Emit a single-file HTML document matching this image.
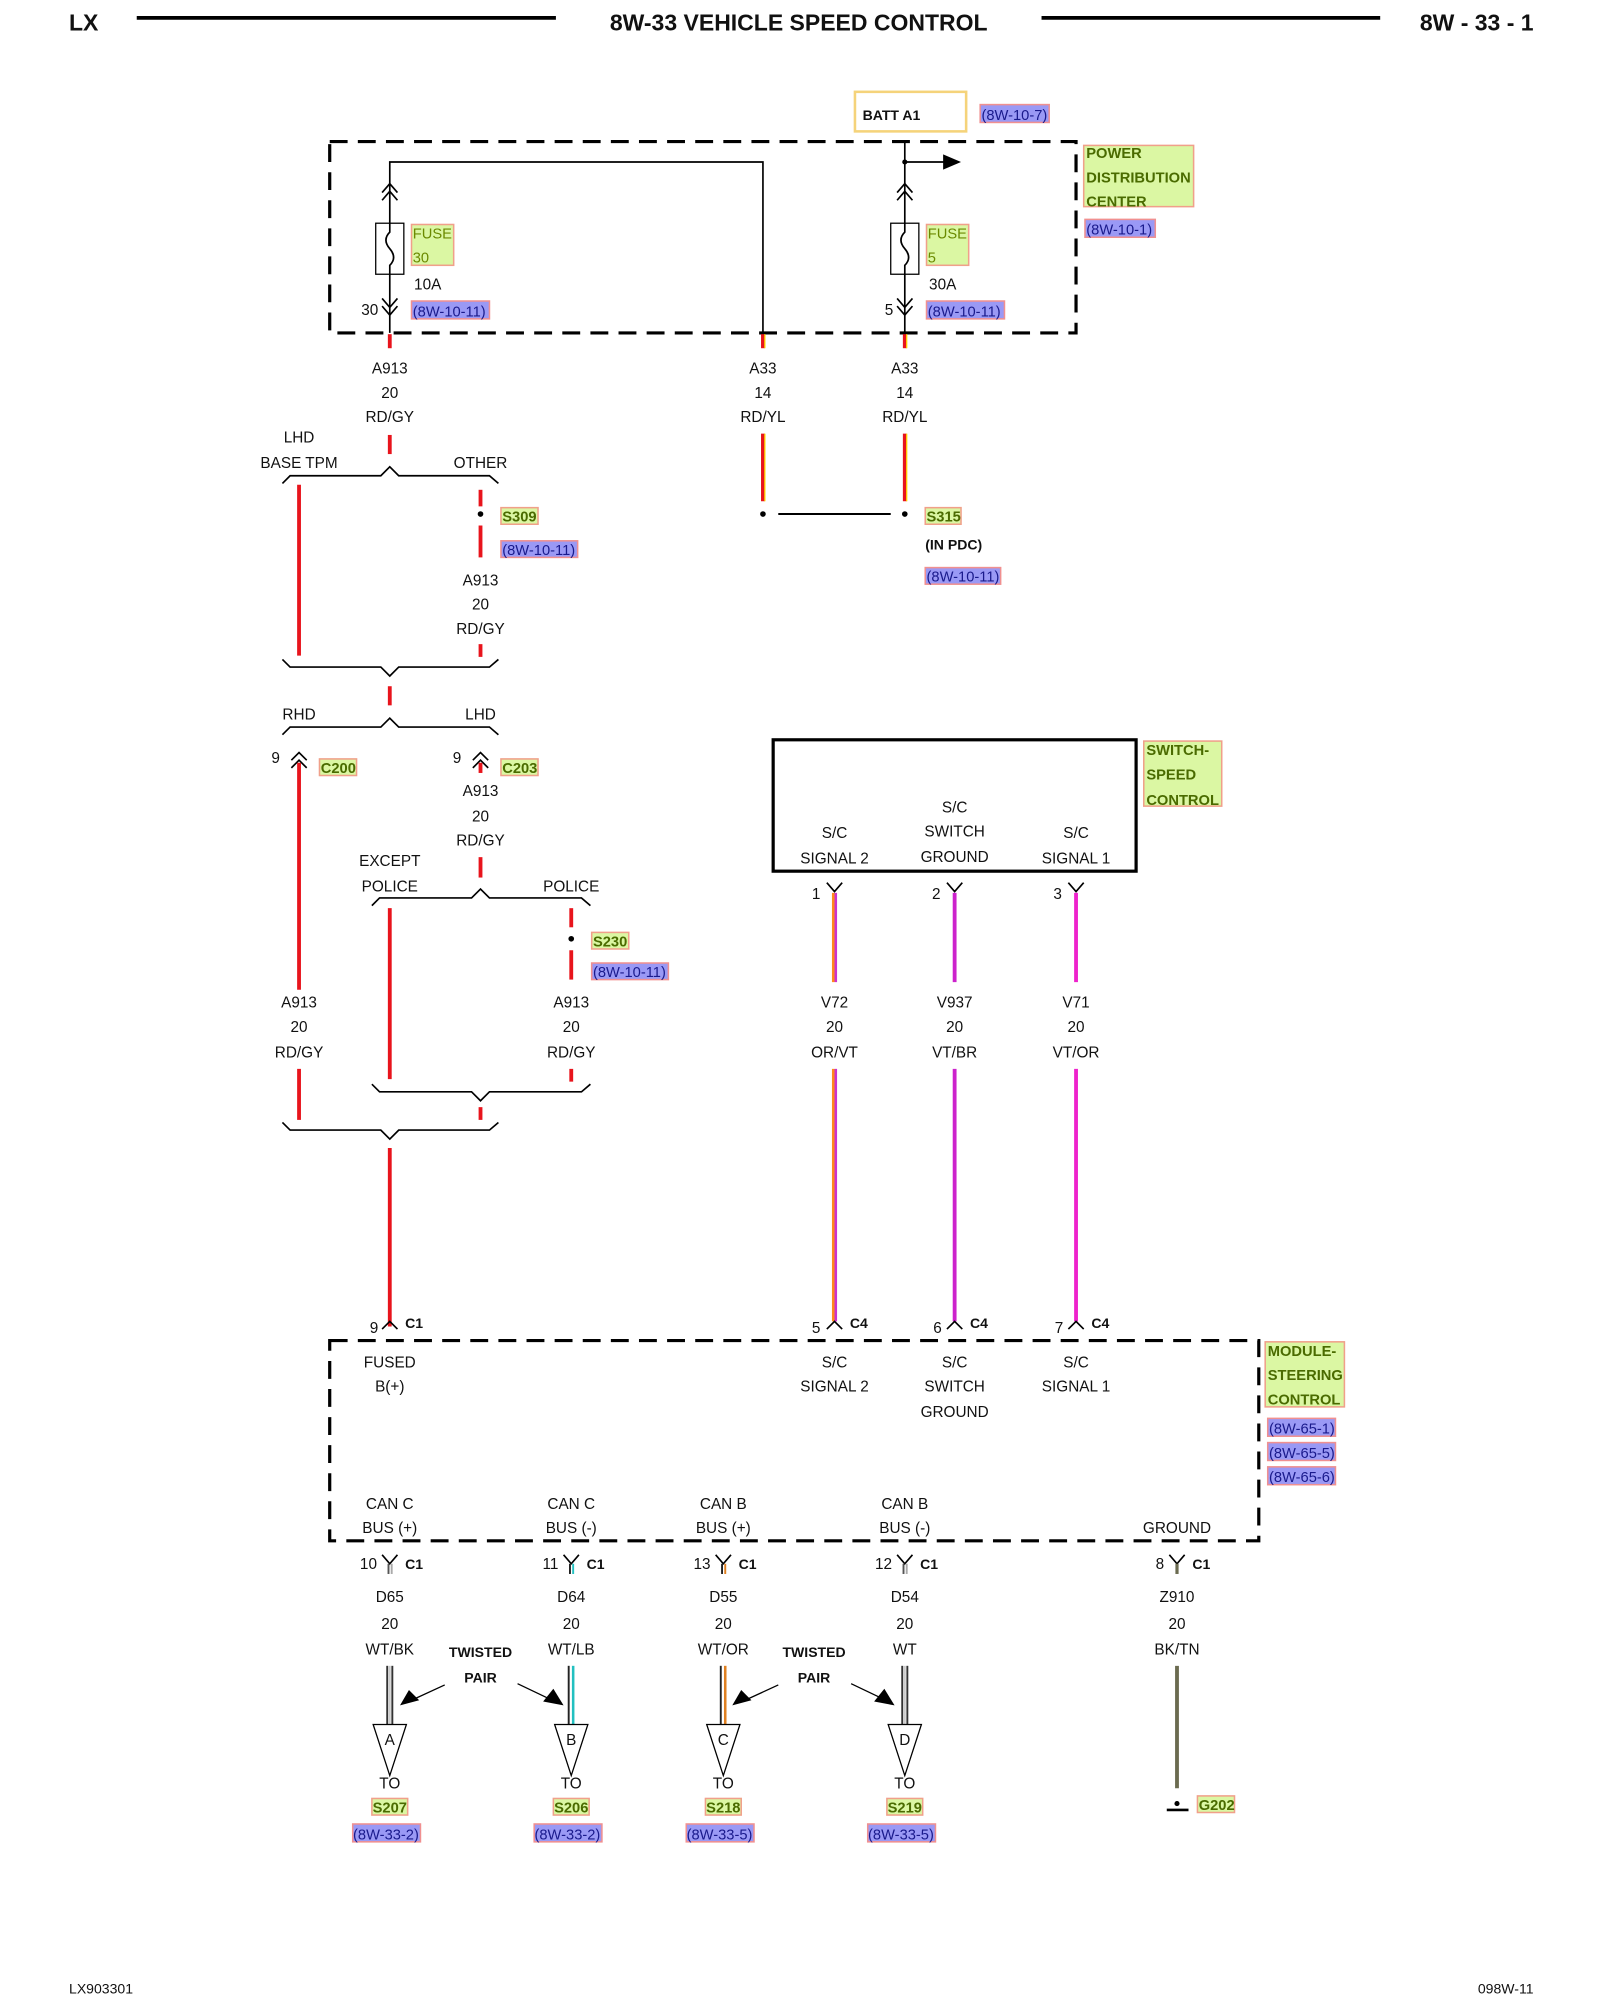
<!DOCTYPE html>
<html><head><meta charset="utf-8"><style>
html,body{margin:0;padding:0;background:#fff;}
svg{display:block;}
text{font-family:"Liberation Sans",Arial,sans-serif;font-size:12px;fill:#111;}
.c{text-anchor:middle;}
.r{text-anchor:end;}
.b{font-weight:bold;}
.g{font-weight:bold;fill:#4a6b00;font-size:11.5px;}
.bl{fill:#1a1a8c;font-size:11.5px;}
.gr{fill:#dbf7a3;stroke:#f0a08a;stroke-width:1.2;}
.bb{fill:#9a99f5;stroke:#f09090;stroke-width:1.2;}
.k{stroke:#000;fill:none;stroke-width:1.3;}
.red{stroke:#e8141c;stroke-width:3;fill:none;}
</style></head><body>
<svg width="1600" height="2000" viewBox="0 0 1252 1568" preserveAspectRatio="none" xmlns="http://www.w3.org/2000/svg">
<!-- header -->
<text x="54" y="24" class="b" style="font-size:18px">LX</text>
<line x1="107" y1="14" x2="435" y2="14" stroke="#000" stroke-width="3"/>
<text x="625" y="24" class="b c" style="font-size:18px">8W-33 VEHICLE SPEED CONTROL</text>
<line x1="815" y1="14" x2="1080" y2="14" stroke="#000" stroke-width="3"/>
<text x="1200" y="24" class="b r" style="font-size:18px">8W - 33 - 1</text>

<!-- BATT -->
<rect x="669" y="72" width="87" height="31" fill="none" stroke="#f5d37a" stroke-width="2"/>
<text x="675" y="94" class="b" style="font-size:11px">BATT A1</text>
<rect x="767" y="82" width="54" height="14" class="bb"/><text x="768" y="94" class="bl">(8W-10-7)</text>

<!-- PDC -->
<rect x="258" y="111" width="584" height="150" fill="none" stroke="#000" stroke-width="2.5" stroke-dasharray="14 8"/>
<rect x="848" y="114" width="86" height="48" class="gr"/>
<text x="850" y="124" class="g">POWER</text><text x="850" y="143" class="g">DISTRIBUTION</text><text x="850" y="162" class="g">CENTER</text>
<rect x="849" y="172" width="55" height="14" class="bb"/><text x="850" y="184" class="bl">(8W-10-1)</text>

<!-- left fuse -->
<path class="k" d="M305 261 V127 H597 V261"/>
<path class="k" d="M299 151 L305 144 L311 151 M299 157 L305 150 L311 157"/>
<rect x="294" y="175" width="22" height="40" fill="#fff" stroke="#000" stroke-width="1"/>
<path class="k" d="M305 175 V182 Q299 188 305 195 Q311 202 305 208 V215" stroke-width="1"/>
<path class="k" d="M299 234 L305 241 L311 234 M299 240 L305 247 L311 240"/>
<rect x="322" y="176" width="33" height="32" class="gr" style="fill:#dbf7a3"/>
<text x="323" y="187" style="fill:#6b8a00;font-size:11.5px">FUSE</text><text x="323" y="206" style="fill:#6b8a00;font-size:11.5px">30</text>
<text x="324" y="227">10A</text>
<text x="296" y="247" class="r">30</text>
<rect x="322" y="236" width="61" height="14" class="bb"/><text x="323" y="248" class="bl">(8W-10-11)</text>

<!-- right fuse -->
<path class="k" d="M708 111 V261 M708 127 H740"/>
<circle cx="708" cy="127" r="2" fill="#000"/>
<path d="M738 121 L752 127 L738 133 Z" fill="#000"/>
<path class="k" d="M702 151 L708 144 L714 151 M702 157 L708 150 L714 157"/>
<rect x="697" y="175" width="22" height="40" fill="#fff" stroke="#000" stroke-width="1"/>
<path class="k" d="M708 175 V182 Q702 188 708 195 Q714 202 708 208 V215" stroke-width="1"/>
<path class="k" d="M702 234 L708 241 L714 234 M702 240 L708 247 L714 240"/>
<rect x="725" y="176" width="33" height="32" class="gr"/>
<text x="726" y="187" style="fill:#6b8a00;font-size:11.5px">FUSE</text><text x="726" y="206" style="fill:#6b8a00;font-size:11.5px">5</text>
<text x="727" y="227">30A</text>
<text x="699" y="247" class="r">5</text>
<rect x="725" y="236" width="61" height="14" class="bb"/><text x="726" y="248" class="bl">(8W-10-11)</text>

<!-- stubs -->
<line x1="305" y1="262" x2="305" y2="273" class="red"/>
<line x1="597" y1="262" x2="597" y2="273" class="red"/><line x1="598.5" y1="262" x2="598.5" y2="273" stroke="#ffd800" stroke-width="1"/>
<line x1="708" y1="262" x2="708" y2="273" class="red"/><line x1="709.5" y1="262" x2="709.5" y2="273" stroke="#ffd800" stroke-width="1"/>

<text x="305" y="293" class="c">A913</text><text x="305" y="312" class="c">20</text><text x="305" y="331" class="c">RD/GY</text>
<text x="597" y="293" class="c">A33</text><text x="597" y="312" class="c">14</text><text x="597" y="331" class="c">RD/YL</text>
<text x="708" y="293" class="c">A33</text><text x="708" y="312" class="c">14</text><text x="708" y="331" class="c">RD/YL</text>

<line x1="305" y1="341" x2="305" y2="356" class="red"/>
<line x1="597" y1="340" x2="597" y2="393" class="red"/><line x1="598.5" y1="340" x2="598.5" y2="393" stroke="#ffd800" stroke-width="1"/>
<line x1="708" y1="340" x2="708" y2="393" class="red"/><line x1="709.5" y1="340" x2="709.5" y2="393" stroke="#ffd800" stroke-width="1"/>
<circle cx="597" cy="403" r="2.2" fill="#000"/><circle cx="708" cy="403" r="2.2" fill="#000"/>
<line x1="609" y1="403" x2="697" y2="403" stroke="#000" stroke-width="1.6"/>
<rect x="724" y="398" width="28" height="13" class="gr"/><text x="725" y="409" class="g">S315</text>
<text x="724" y="431" class="b" style="font-size:11px">(IN PDC)</text>
<rect x="724" y="445" width="59" height="13" class="bb"/><text x="725" y="456" class="bl">(8W-10-11)</text>

<!-- branch 1 -->
<text x="234" y="347" class="c">LHD</text><text x="234" y="367" class="c">BASE TPM</text><text x="376" y="367" class="c">OTHER</text>
<path class="k" d="M221 379 L227 373 H298 L305 366 L312 373 H383 L390 379"/>
<line x1="234" y1="380" x2="234" y2="514" class="red"/>
<line x1="376" y1="384" x2="376" y2="397" class="red"/>
<circle cx="376" cy="403" r="2.2" fill="#000"/>
<rect x="392" y="398" width="29" height="13" class="gr"/><text x="393" y="409" class="g">S309</text>
<line x1="376" y1="412" x2="376" y2="437" class="red"/>
<rect x="392" y="424" width="60" height="13" class="bb"/><text x="393" y="435" class="bl">(8W-10-11)</text>
<text x="376" y="459" class="c">A913</text><text x="376" y="478" class="c">20</text><text x="376" y="497" class="c">RD/GY</text>
<line x1="376" y1="505" x2="376" y2="515" class="red"/>
<path class="k" d="M221 517 L227 523 H298 L305 530 L312 523 H383 L390 517"/>
<line x1="305" y1="538" x2="305" y2="553" class="red"/>

<!-- branch 2 -->
<text x="234" y="564" class="c">RHD</text><text x="376" y="564" class="c">LHD</text>
<path class="k" d="M221 576 L227 570 H298 L305 563 L312 570 H383 L390 576"/>
<text x="219" y="598" class="r">9</text>
<path class="k" d="M228 596 L234 590 L240 596 M228 602 L234 596 L240 602"/>
<rect x="250" y="595" width="29" height="13" class="gr"/><text x="251" y="606" class="g">C200</text>
<text x="361" y="598" class="r">9</text>
<path class="k" d="M370 596 L376 590 L382 596 M370 602 L376 596 L382 602"/>
<rect x="392" y="595" width="29" height="13" class="gr"/><text x="393" y="606" class="g">C203</text>
<line x1="234" y1="598" x2="234" y2="776" class="red"/>
<line x1="376" y1="598" x2="376" y2="606" class="red"/>
<text x="376" y="624" class="c">A913</text><text x="376" y="644" class="c">20</text><text x="376" y="663" class="c">RD/GY</text>
<line x1="376" y1="672" x2="376" y2="688" class="red"/>

<text x="305" y="679" class="c">EXCEPT</text><text x="305" y="699" class="c">POLICE</text><text x="447" y="699" class="c">POLICE</text>
<path class="k" d="M291 710 L297 704 H369 L376 697 L383 704 H455 L462 710"/>
<line x1="305" y1="712" x2="305" y2="846" class="red"/>
<line x1="447" y1="712" x2="447" y2="727" class="red"/>
<circle cx="447" cy="736" r="2.2" fill="#000"/>
<rect x="463" y="731" width="29" height="13" class="gr"/><text x="464" y="742" class="g">S230</text>
<line x1="447" y1="745" x2="447" y2="768" class="red"/>
<rect x="463" y="755" width="60" height="13" class="bb"/><text x="464" y="766" class="bl">(8W-10-11)</text>
<text x="447" y="790" class="c">A913</text><text x="447" y="809" class="c">20</text><text x="447" y="829" class="c">RD/GY</text>
<line x1="447" y1="838" x2="447" y2="848" class="red"/>
<text x="234" y="790" class="c">A913</text><text x="234" y="809" class="c">20</text><text x="234" y="829" class="c">RD/GY</text>
<line x1="234" y1="838" x2="234" y2="878" class="red"/>
<path class="k" d="M291 850 L297 856 H369 L376 863 L383 856 H455 L462 850"/>
<line x1="376" y1="868" x2="376" y2="878" class="red"/>
<path class="k" d="M221 880 L227 886 H298 L305 893 L312 886 H383 L390 880"/>
<line x1="305" y1="900" x2="305" y2="1040" class="red"/>
<text x="296" y="1045" class="r">9</text>
<path class="k" d="M299 1042 L305 1036 L311 1042"/>
<text x="317" y="1041" class="b" style="font-size:11px">C1</text>

<!-- switch -->
<rect x="605" y="580" width="284" height="103" fill="none" stroke="#000" stroke-width="2.5"/>
<text x="653" y="657" class="c">S/C</text><text x="653" y="677" class="c">SIGNAL 2</text>
<text x="747" y="637" class="c">S/C</text><text x="747" y="656" class="c">SWITCH</text><text x="747" y="676" class="c">GROUND</text>
<text x="842" y="657" class="c">S/C</text><text x="842" y="677" class="c">SIGNAL 1</text>
<rect x="895" y="581" width="61" height="51" class="gr"/>
<text x="897" y="592" class="g">SWITCH-</text><text x="897" y="611" class="g">SPEED</text><text x="897" y="631" class="g">CONTROL</text>
<path class="k" d="M647 692 L653 699 L659 692 M741 692 L747 699 L753 692 M836 692 L842 699 L848 692"/>
<text x="642" y="705" class="r">1</text><text x="736" y="705" class="r">2</text><text x="831" y="705" class="r">3</text>
<g>
<line x1="652" y1="700" x2="652" y2="770" stroke="#ff8a1c" stroke-width="2"/><line x1="654" y1="700" x2="654" y2="770" stroke="#cc33cc" stroke-width="2"/>
<line x1="747" y1="700" x2="747" y2="770" stroke="#cc22cc" stroke-width="3"/>
<line x1="842" y1="700" x2="842" y2="770" stroke="#ee22cc" stroke-width="3"/>
<line x1="652" y1="838" x2="652" y2="1036" stroke="#ff8a1c" stroke-width="2"/><line x1="654" y1="838" x2="654" y2="1036" stroke="#cc33cc" stroke-width="2"/>
<line x1="747" y1="838" x2="747" y2="1036" stroke="#cc22cc" stroke-width="3"/>
<line x1="842" y1="838" x2="842" y2="1036" stroke="#ee22cc" stroke-width="3"/>
</g>
<text x="653" y="790" class="c">V72</text><text x="653" y="809" class="c">20</text><text x="653" y="829" class="c">OR/VT</text>
<text x="747" y="790" class="c">V937</text><text x="747" y="809" class="c">20</text><text x="747" y="829" class="c">VT/BR</text>
<text x="842" y="790" class="c">V71</text><text x="842" y="809" class="c">20</text><text x="842" y="829" class="c">VT/OR</text>
<path class="k" d="M647 1042 L653 1036 L659 1042 M741 1042 L747 1036 L753 1042 M836 1042 L842 1036 L848 1042"/>
<text x="642" y="1045" class="r">5</text><text x="665" y="1041" class="b" style="font-size:11px">C4</text>
<text x="737" y="1045" class="r">6</text><text x="759" y="1041" class="b" style="font-size:11px">C4</text>
<text x="832" y="1045" class="r">7</text><text x="854" y="1041" class="b" style="font-size:11px">C4</text>

<!-- module -->
<rect x="258" y="1051" width="727" height="157" fill="none" stroke="#000" stroke-width="2.5" stroke-dasharray="14 8"/>
<text x="305" y="1072" class="c">FUSED</text><text x="305" y="1091" class="c">B(+)</text>
<text x="653" y="1072" class="c">S/C</text><text x="653" y="1091" class="c">SIGNAL 2</text>
<text x="747" y="1072" class="c">S/C</text><text x="747" y="1091" class="c">SWITCH</text><text x="747" y="1111" class="c">GROUND</text>
<text x="842" y="1072" class="c">S/C</text><text x="842" y="1091" class="c">SIGNAL 1</text>
<rect x="990" y="1052" width="62" height="51" class="gr"/>
<text x="992" y="1063" class="g">MODULE-</text><text x="992" y="1082" class="g">STEERING</text><text x="992" y="1101" class="g">CONTROL</text>
<rect x="992" y="1112" width="53" height="14" class="bb"/><text x="993" y="1124" class="bl">(8W-65-1)</text>
<rect x="992" y="1131" width="53" height="14" class="bb"/><text x="993" y="1143" class="bl">(8W-65-5)</text>
<rect x="992" y="1150" width="53" height="14" class="bb"/><text x="993" y="1162" class="bl">(8W-65-6)</text>
<text x="305" y="1183" class="c">CAN C</text><text x="305" y="1202" class="c">BUS (+)</text>
<text x="447" y="1183" class="c">CAN C</text><text x="447" y="1202" class="c">BUS (-)</text>
<text x="566" y="1183" class="c">CAN B</text><text x="566" y="1202" class="c">BUS (+)</text>
<text x="708" y="1183" class="c">CAN B</text><text x="708" y="1202" class="c">BUS (-)</text>
<text x="921" y="1202" class="c">GROUND</text>

<!-- bottom connectors -->
<path class="k" d="M299 1219 L305 1226 L311 1219 M441 1219 L447 1226 L453 1219 M560 1219 L566 1226 L572 1219 M702 1219 L708 1226 L714 1219 M915 1219 L921 1226 L927 1219"/>
<g stroke-width="1.5">
<line x1="304" y1="1226" x2="304" y2="1234" stroke="#555"/><line x1="306.5" y1="1226" x2="306.5" y2="1234" stroke="#aaa"/>
<line x1="446" y1="1226" x2="446" y2="1234" stroke="#222"/><line x1="448.5" y1="1226" x2="448.5" y2="1234" stroke="#22c0c0"/>
<line x1="565" y1="1226" x2="565" y2="1234" stroke="#222"/><line x1="567.5" y1="1226" x2="567.5" y2="1234" stroke="#e08020"/>
<line x1="707" y1="1226" x2="707" y2="1234" stroke="#555"/><line x1="709.5" y1="1226" x2="709.5" y2="1234" stroke="#aaa"/>
<line x1="921" y1="1226" x2="921" y2="1234" stroke="#6b6b50" stroke-width="2.5"/>
</g>
<text x="295" y="1230" class="r">10</text><text x="317" y="1230" class="b" style="font-size:11px">C1</text>
<text x="437" y="1230" class="r">11</text><text x="459" y="1230" class="b" style="font-size:11px">C1</text>
<text x="556" y="1230" class="r">13</text><text x="578" y="1230" class="b" style="font-size:11px">C1</text>
<text x="698" y="1230" class="r">12</text><text x="720" y="1230" class="b" style="font-size:11px">C1</text>
<text x="911" y="1230" class="r">8</text><text x="933" y="1230" class="b" style="font-size:11px">C1</text>

<text x="305" y="1256" class="c">D65</text><text x="305" y="1277" class="c">20</text><text x="305" y="1297" class="c">WT/BK</text>
<text x="447" y="1256" class="c">D64</text><text x="447" y="1277" class="c">20</text><text x="447" y="1297" class="c">WT/LB</text>
<text x="566" y="1256" class="c">D55</text><text x="566" y="1277" class="c">20</text><text x="566" y="1297" class="c">WT/OR</text>
<text x="708" y="1256" class="c">D54</text><text x="708" y="1277" class="c">20</text><text x="708" y="1297" class="c">WT</text>
<text x="921" y="1256" class="c">Z910</text><text x="921" y="1277" class="c">20</text><text x="921" y="1297" class="c">BK/TN</text>
<text x="376" y="1299" class="c b" style="font-size:11px">TWISTED</text><text x="376" y="1319" class="c b" style="font-size:11px">PAIR</text>
<text x="637" y="1299" class="c b" style="font-size:11px">TWISTED</text><text x="637" y="1319" class="c b" style="font-size:11px">PAIR</text>

<g stroke-width="1.5">
<line x1="303" y1="1306" x2="303" y2="1352" stroke="#333"/><line x1="307" y1="1306" x2="307" y2="1352" stroke="#333"/><line x1="305" y1="1306" x2="305" y2="1352" stroke="#ccc"/>
<line x1="445" y1="1306" x2="445" y2="1352" stroke="#222"/><line x1="448.5" y1="1306" x2="448.5" y2="1352" stroke="#22c0c0" stroke-width="2"/>
<line x1="564" y1="1306" x2="564" y2="1352" stroke="#222"/><line x1="567.5" y1="1306" x2="567.5" y2="1352" stroke="#e08020" stroke-width="2"/>
<line x1="706" y1="1306" x2="706" y2="1352" stroke="#333"/><line x1="710" y1="1306" x2="710" y2="1352" stroke="#333"/><line x1="708" y1="1306" x2="708" y2="1352" stroke="#ccc"/>
<line x1="921" y1="1306" x2="921" y2="1402" stroke="#6b6b50" stroke-width="3"/>
</g>
<g fill="#fff" stroke="#000" stroke-width="1">
<path d="M292 1352 H318 L305 1392 Z"/><path d="M434 1352 H460 L447 1392 Z"/><path d="M553 1352 H579 L566 1392 Z"/><path d="M695 1352 H721 L708 1392 Z"/>
</g>
<text x="305" y="1368" class="c">A</text><text x="447" y="1368" class="c">B</text><text x="566" y="1368" class="c">C</text><text x="708" y="1368" class="c">D</text>
<g stroke="#000" stroke-width="1">
<line x1="348" y1="1321" x2="322" y2="1333"/><line x1="405" y1="1320" x2="430" y2="1332"/>
<line x1="609" y1="1321" x2="583" y2="1333"/><line x1="666" y1="1320" x2="691" y2="1332"/>
</g>
<g fill="#000">
<path d="M313 1337 L320 1325 L328 1333 Z"/><path d="M441 1337 L425 1334 L433 1324 Z"/>
<path d="M573 1337 L580 1325 L588 1333 Z"/><path d="M700 1337 L684 1334 L692 1324 Z"/>
</g>
<text x="305" y="1402" class="c">TO</text><text x="447" y="1402" class="c">TO</text><text x="566" y="1402" class="c">TO</text><text x="708" y="1402" class="c">TO</text>
<rect x="291" y="1410" width="28" height="13" class="gr"/><text x="305" y="1421" class="g c">S207</text>
<rect x="433" y="1410" width="28" height="13" class="gr"/><text x="447" y="1421" class="g c">S206</text>
<rect x="552" y="1410" width="28" height="13" class="gr"/><text x="566" y="1421" class="g c">S218</text>
<rect x="694" y="1410" width="28" height="13" class="gr"/><text x="708" y="1421" class="g c">S219</text>
<rect x="276" y="1430" width="53" height="14" class="bb"/><text x="302" y="1442" class="bl c">(8W-33-2)</text>
<rect x="418" y="1430" width="53" height="14" class="bb"/><text x="444" y="1442" class="bl c">(8W-33-2)</text>
<rect x="537" y="1430" width="53" height="14" class="bb"/><text x="563" y="1442" class="bl c">(8W-33-5)</text>
<rect x="679" y="1430" width="53" height="14" class="bb"/><text x="705" y="1442" class="bl c">(8W-33-5)</text>
<circle cx="921" cy="1414" r="2" fill="#000"/>
<line x1="913" y1="1419" x2="930" y2="1419" stroke="#000" stroke-width="2"/>
<rect x="937" y="1408" width="29" height="13" class="gr"/><text x="938" y="1419" class="g">G202</text>

<!-- footer -->
<text x="54" y="1563" style="font-size:11px">LX903301</text>
<text x="1200" y="1563" class="r" style="font-size:11px">098W-11</text>
</svg>
</body></html>
